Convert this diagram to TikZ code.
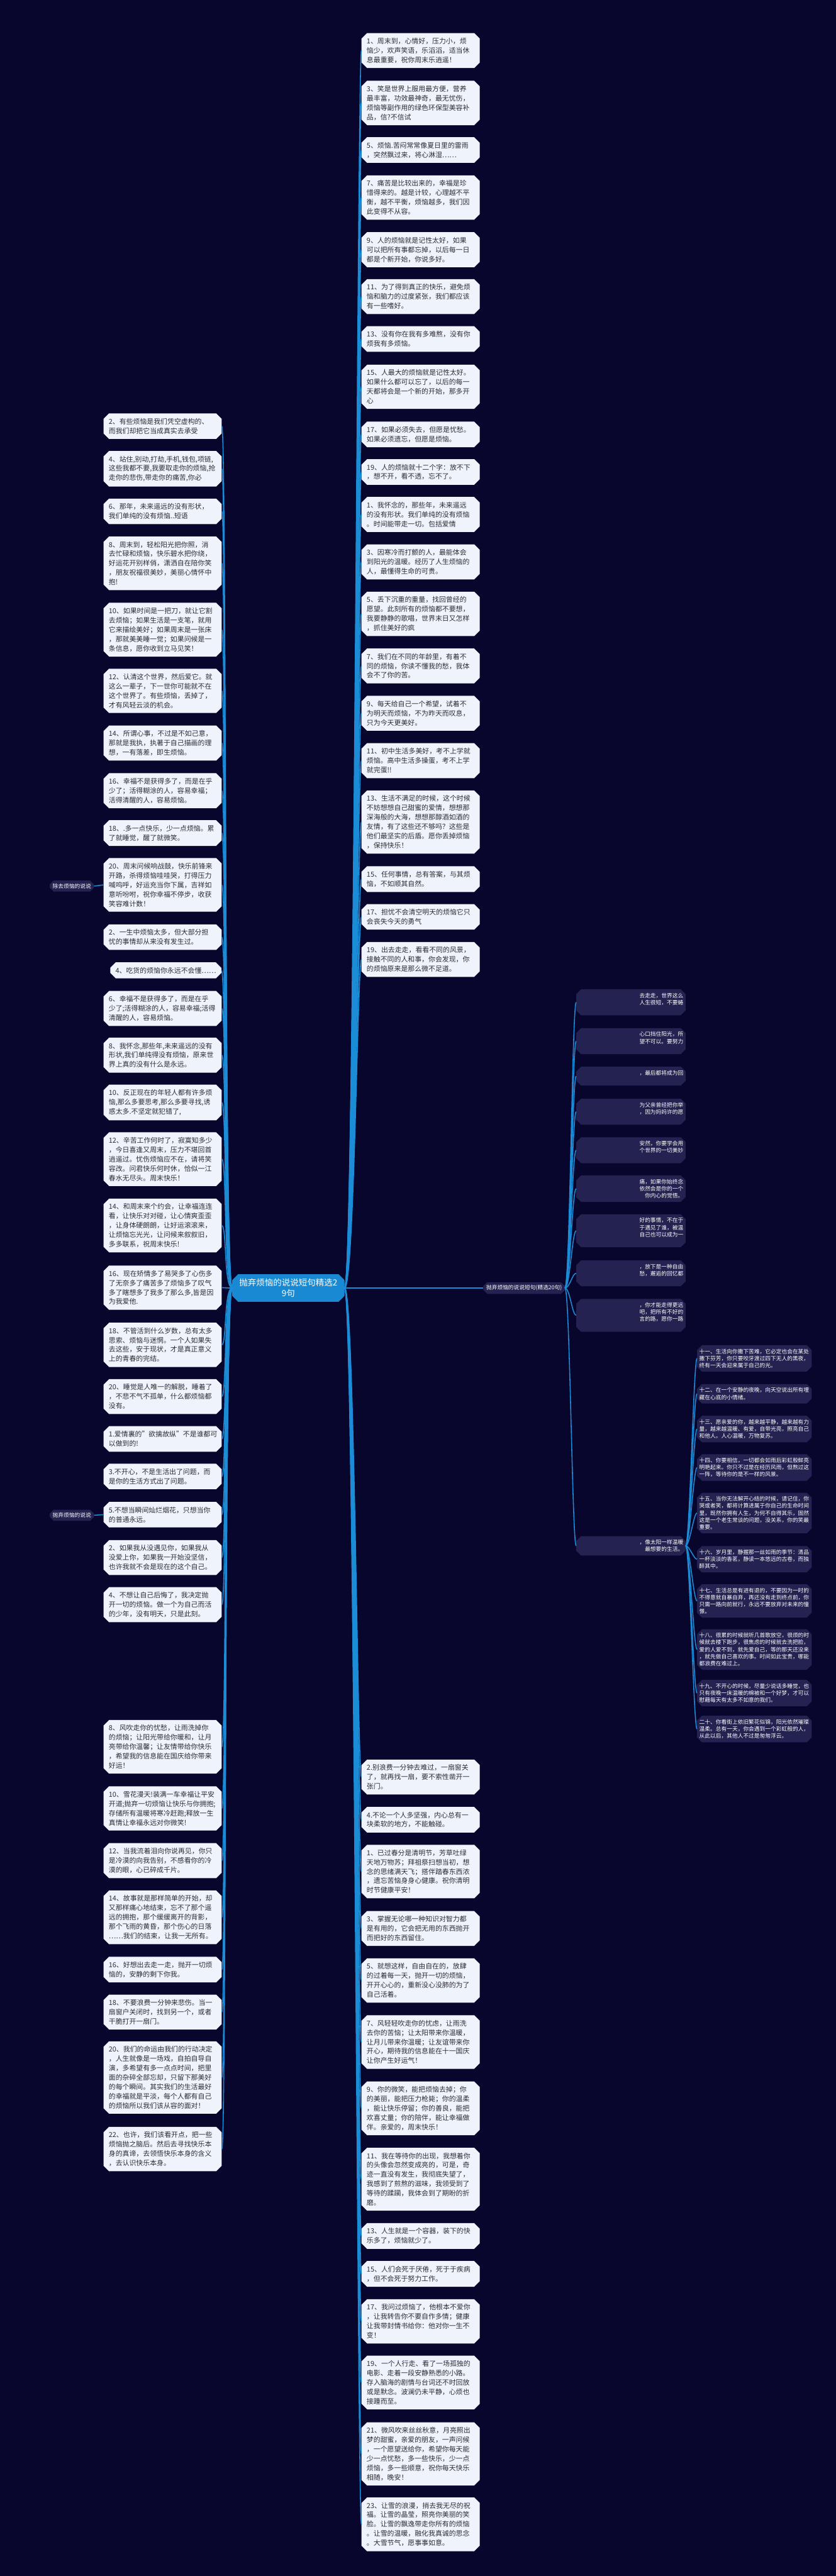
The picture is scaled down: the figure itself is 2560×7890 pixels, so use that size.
\documentclass[tikz,border=0pt]{standalone}
\usepackage{fontspec}
\setmainfont{Noto Sans CJK SC}
\usetikzlibrary{shapes.misc,calc}
\definecolor{bgcol}{RGB}{9,6,46}
\definecolor{lightfill}{RGB}{238,243,252}
\definecolor{lighttext}{RGB}{45,45,50}
\definecolor{darkfill}{RGB}{36,34,80}
\definecolor{linecol}{RGB}{27,140,214}
\definecolor{centerfill}{RGB}{25,137,211}
\newcommand{\mylfont}{\fontsize{21}{28.7}\selectfont}
\newcommand{\mydfont}{\fontsize{16.8}{21.6}\selectfont}
\newcommand{\mycfont}{\fontsize{26}{32}\selectfont}
\begin{document}
\begin{tikzpicture}[x=1pt,y=-1pt,
  lnode/.style={chamfered rectangle, chamfered rectangle xsep=8pt, chamfered rectangle ysep=9pt, fill=lightfill, text=lighttext, inner xsep=8pt, inner ysep=6pt, text width=330pt, align=left, font=\mylfont, anchor=north},
  dnode/.style={chamfered rectangle, chamfered rectangle xsep=7pt, chamfered rectangle ysep=8pt, fill=darkfill, text=white, inner xsep=0pt, inner ysep=3pt, text width=337pt, align=left, font=\mydfont, anchor=north},
  fnode/.style={dnode, text width=321pt, align=right},
  hub/.style={chamfered rectangle, chamfered rectangle xsep=6pt, chamfered rectangle ysep=6pt, fill=darkfill, text=white, font=\mydfont, inner sep=3pt},
  conn/.style={draw=linecol, line width=3pt},
]
\fill[bgcol] (0,0) rectangle (2560,7890);
\useasboundingbox (0,0) rectangle (2560,7890);

% center
\node[chamfered rectangle, chamfered rectangle xsep=8pt, chamfered rectangle ysep=10pt, fill=centerfill, text=white, font=\mycfont, text width=320pt, align=center, inner sep=4pt] (c) at (883,3945) {抛弃烦恼的说说短句精选2\\9句};

% left column
\node[lnode] (L1) at (498,1266) {2、有些烦恼是我们凭空虚构的、\\而我们却把它当成真实去承受};
\node[lnode] (L2) at (498,1381) {4、站住,别动,打劫,手机,钱包,项链,\\这些我都不要,我要取走你的烦恼,抢\\走你的悲伤,带走你的痛苦,你必};
\node[lnode] (L3) at (498,1527) {6、那年，未来遥远的没有形状，\\我们单纯的没有烦恼..短语};
\node[lnode] (L4) at (498,1643) {8、周末到，轻松阳光把你照，消\\去忙碌和烦恼，快乐碧水把你绕，\\好运花开别样俏，潇洒自在陪你笑\\，朋友祝福很美妙，美丽心情怀中\\抱!};
\node[lnode] (L5) at (498,1846) {10、如果时间是一把刀，就让它割\\去烦恼；如果生活是一支笔，就用\\它来描绘美好；如果周末是一张床\\，那就美美睡一觉；如果问候是一\\条信息，愿你收到立马见笑！};
\node[lnode] (L6) at (498,2048) {12、认清这个世界，然后爱它。就\\这么一辈子，下一世你可能就不在\\这个世界了。有些烦恼，丢掉了，\\才有风轻云淡的机会。};
\node[lnode] (L7) at (498,2222) {14、所谓心事，不过是不如己意，\\那就是我执，执著于自己描画的理\\想，一有落差，即生烦恼。};
\node[lnode] (L8) at (498,2368) {16、幸福不是获得多了，而是在乎\\少了；活得糊涂的人，容易幸福；\\活得清醒的人，容易烦恼。};
\node[lnode] (L9) at (498,2512) {18、.多一点快乐，少一点烦恼。累\\了就睡觉，醒了就微笑。};
\node[lnode] (L10) at (498,2628) {20、周末问候响战鼓，快乐前锋来\\开路，杀得烦恼哇哇哭，打得压力\\喊呜呼，好运充当你下属，吉祥如\\意听吩咐，祝你幸福不停步，收获\\笑容难计数！};
\node[lnode] (L11) at (498,2831) {2、一生中烦恼太多，但大部分担\\忧的事情却从来没有发生过。};
\node[lnode, text width=, anchor=east] (L12) at (678,2972) {4、吃货的烦恼你永远不会懂……};
\node[lnode] (L13) at (498,3035) {6、幸福不是获得多了，而是在乎\\少了;活得糊涂的人，容易幸福;活得\\清醒的人，容易烦恼。};
\node[lnode] (L14) at (498,3178) {8、我怀念,那些年,未来遥远的没有\\形状,我们单纯得没有烦恼，原来世\\界上真的没有什么是永远。};
\node[lnode] (L15) at (498,3322) {10、反正现在的年轻人都有许多烦\\恼,那么多要思考,那么多要寻找,诱\\惑太多.不坚定就犯错了,};
\node[lnode] (L16) at (498,3468) {12、辛苦工作何时了，寂寞知多少\\，今日喜逢又周末，压力不堪回首\\逍遥过。忧伤烦恼应不在，请将笑\\容改。问君快乐何时休，恰似一江\\春水无尽头。周末快乐！};
\node[lnode] (L17) at (498,3671) {14、和周末来个约会，让幸福连连\\看，让快乐对对碰，让心情爽歪歪\\，让身体硬朗朗，让好运滚滚来，\\让烦恼忘光光，让问候来叙叙旧，\\多多联系，祝周末快乐!};
\node[lnode] (L18) at (498,3876) {16、现在矫情多了易哭多了心伤多\\了无奈多了痛苦多了烦恼多了叹气\\多了瞎想多了我多了那么多,皆是因\\为我爱他.};
\node[lnode] (L19) at (498,4051) {18、不管活到什么岁数，总有太多\\思索、烦恼与迷惘。一个人如果失\\去这些，安于现状，才是真正意义\\上的青春的完结。};
\node[lnode] (L20) at (498,4224) {20、睡觉是人唯一的解脱，睡着了\\，不悲不气不孤单，什么都烦恼都\\没有。};
\node[lnode] (L21) at (498,4368) {1.爱情裏的"欲擒故纵"不是谁都可\\以做到的!};
\node[lnode] (L22) at (498,4483) {3.不开心，不是生活出了问题，而\\是你的生活方式出了问题。};
\node[lnode] (L23) at (498,4600) {5.不想当瞬间灿烂烟花，只想当你\\的普通永远。};
\node[lnode] (L24) at (498,4717) {2、如果我从没遇见你，如果我从\\没爱上你，如果我一开始没坚信，\\也许我就不会是现在的这个自己。};
\node[lnode] (L25) at (498,4861) {4、不想让自己后悔了，我决定抛\\开一切的烦恼。做一个为自己而活\\的少年，没有明天，只是此刻。};
\node[lnode] (L27) at (498,5268) {8、风吹走你的忧愁，让雨洗掉你\\的烦恼；让阳光带给你暖和，让月\\亮带给你温馨；让友情带给你快乐\\，希望我的信息能在国庆给你带来\\好运！};
\node[lnode] (L28) at (498,5471) {10、雪花漫天!装满一车幸福让平安\\开道;抛弃一切烦恼让快乐与你拥抱;\\存储所有温暖将寒冷赶跑;释放一生\\真情让幸福永远对你微笑!};
\node[lnode] (L29) at (498,5645) {12、当我流着泪向你说再见，你只\\是冷漠的向我告别，不感看你的冷\\漠的眼，心已碎成千片。};
\node[lnode] (L30) at (498,5790) {14、故事就是那样简单的开始，却\\又那样痛心地结束，忘不了那个遥\\远的拥抱，那个缓缓离开的背影，\\那个飞雨的黄昏，那个伤心的日落\\……我们的结束，让我一无所有。};
\node[lnode] (L31) at (498,5993) {16、好想出去走一走，抛开一切烦\\恼的，安静的剩下你我。};
\node[lnode] (L32) at (498,6109) {18、不要浪费一分钟来悲伤。当一\\扇窗户关闭时，找到另一个，或者\\干脆打开一扇门。};
\node[lnode] (L33) at (498,6252) {20、我们的命运由我们的行动决定\\，人生就像是一场戏，自拍自导自\\演，多希望有多一点点时间，把里\\面的杂碎全部忘却，只留下那美好\\的每个瞬间。其实我们的生活最好\\的幸福就是平淡，每个人都有自己\\的烦恼所以我们该从容的面对！};
\node[lnode] (L34) at (498,6514) {22、也许，我们该看开点，把一些\\烦恼抛之脑后。然后去寻找快乐本\\身的真谛，去领悟快乐本身的含义\\，去认识快乐本身。};

% left hubs
\node[hub] (h1) at (220,2714) {除去烦恼的说说};
\node[hub] (h2) at (220,4641) {抛弃烦恼的说说};

% right top column
\node[lnode] (A0) at (1288,101) {1、周末到，心情好，压力小，烦\\恼少，欢声笑语，乐滔滔，适当休\\息最重要，祝你周末乐逍遥！};
\node[lnode] (A1) at (1288,247) {3、笑是世界上服用最方便，营养\\最丰富，功效最神奇，最无忧伤，\\烦恼等副作用的绿色环保型美容补\\品，信?不信试};
\node[lnode] (A2) at (1288,420) {5、烦恼.苦闷常常像夏日里的雷雨\\，突然飘过来，将心淋湿……};
\node[lnode] (A3) at (1288,537) {7、痛苦是比较出来的，幸福是珍\\惜得来的。越是计较，心理越不平\\衡，越不平衡，烦恼越多，我们因\\此变得不从容。};
\node[lnode] (A4) at (1288,711) {9、人的烦恼就是记性太好，如果\\可以把所有事都忘掉，以后每一日\\都是个新开始，你说多好。};
\node[lnode] (A5) at (1288,855) {11、为了得到真正的快乐，避免烦\\恼和脑力的过度紧张，我们都应该\\有一些嗜好。};
\node[lnode] (A6) at (1288,999) {13、没有你在我有多难熬，没有你\\烦我有多烦恼。};
\node[lnode] (A7) at (1288,1117) {15、人最大的烦恼就是记性太好。\\如果什么都可以忘了，以后的每一\\天都将会是一个新的开始，那多开\\心};
\node[lnode] (A8) at (1288,1291) {17、如果必须失去，但愿是忧愁。\\如果必须遗忘，但愿是烦恼。};
\node[lnode] (A9) at (1288,1406) {19、人的烦恼就十二个字：放不下\\，想不开，看不透，忘不了。};
\node[lnode] (A10) at (1288,1522) {1、我怀念的，那些年，未来遥远\\的没有形状。我们单纯的没有烦恼\\。时间能带走一切。包括爱情};
\node[lnode] (A11) at (1288,1667) {3、因寒冷而打颤的人，最能体会\\到阳光的温暖。经历了人生烦恼的\\人，最懂得生命的可贵。};
\node[lnode] (A12) at (1288,1812) {5、丢下沉重的重量，找回曾经的\\愿望。此刻所有的烦恼都不要想，\\我要静静的歌唱，世界末日又怎样\\，抓住美好的疯};
\node[lnode] (A13) at (1288,1986) {7、我们在不同的年龄里，有着不\\同的烦恼，你读不懂我的愁，我体\\会不了你的苦。};
\node[lnode] (A14) at (1288,2131) {9、每天给自己一个希望，试着不\\为明天而烦恼，不为昨天而叹息，\\只为今天更美好。};
\node[lnode] (A15) at (1288,2276) {11、初中生活多美好，考不上学就\\烦恼。高中生活多操蛋，考不上学\\就完蛋!!};
\node[lnode] (A16) at (1288,2421) {13、生活不满足的时候，这个时候\\不妨想想自己甜蜜的爱情，想想那\\深海般的大海，想想那醇酒如酒的\\友情，有了这些还不够吗？这些是\\他们最坚实的后盾。愿你丢掉烦恼\\，保持快乐！};
\node[lnode] (A17) at (1288,2653) {15、任何事情，总有答案，与其烦\\恼，不如顺其自然。};
\node[lnode] (A18) at (1288,2769) {17、担忧不会清空明天的烦恼它只\\会丧失今天的勇气};
\node[lnode] (A19) at (1288,2885) {19、出去走走，看看不同的风景，\\接触不同的人和事，你会发现，你\\的烦恼原来是那么微不足道。};

% right middle branch
\node[hub] (hR) at (1605,3945) {抛弃烦恼的说说短句(精选20句)};
\node[fnode] (E1) at (1932,3030) {去走走，世界这么\\人生很短，不要蜷\\\mbox{}};
\node[fnode] (E2) at (1932,3149) {心口挡住阳光，所\\望不可以。要努力\\\mbox{}};
\node[fnode] (E3) at (1932,3267) {，最后都将成为回\\\mbox{}};
\node[fnode] (E4) at (1932,3365) {为父亲曾经把你举\\，因为妈妈许的愿\\\mbox{}};
\node[fnode] (E5) at (1932,3483) {安然，你要学会用\\个世界的一切美妙\\\mbox{}};
\node[fnode] (E6) at (1932,3600) {痛，如果你始终念\\依然会是你的一个\\你内心的觉悟。\hspace{25pt}};
\node[fnode] (E7) at (1932,3719) {好的事情，不在于\\于遇见了谁，被温\\自己也可以成为一\\\mbox{}};
\node[fnode] (E8) at (1932,3860) {，放下是一种自由\\愁，邂逅的回忆都\\\mbox{}};
\node[fnode] (E9) at (1932,3978) {，你才能走得更远\\吧，把所有不好的\\言的路，愿你一路\\\mbox{}};
\node[fnode] (E10) at (1932,4705) {，像太阳一样温暖\\最想要的生活。\hspace{25pt}};

% right bottom column
\node[lnode] (B1) at (1288,5389) {2.别浪费一分钟去难过，一扇窗关\\了，就再找一扇，要不索性凿开一\\张门。};
\node[lnode] (B2) at (1288,5534) {4.不论一个人多坚强，内心总有一\\块柔软的地方，不能触碰。};
\node[lnode] (B3) at (1288,5650) {1、已过春分是清明节，芳草吐绿\\天地万物苏；拜祖祭扫想当初，想\\念的思绪满天飞；搭伴踏春东西浓\\，遗忘苦恼身身心健康。祝你清明\\时节健康平安！};
\node[lnode] (B4) at (1288,5853) {3、掌握无论哪一种知识对智力都\\是有用的，它会把无用的东西抛开\\而把好的东西留住。};
\node[lnode] (B5) at (1288,5998) {5、就想这样，自由自在的，放肆\\的过着每一天，抛开一切的烦恼，\\开开心心的，重新没心没肺的为了\\自己活着。};
\node[lnode] (B6) at (1288,6172) {7、风轻轻吹走你的忧虑，让雨洗\\去你的苦恼；让太阳带来你温暖，\\让月儿带来你温暖；让友谊带来你\\开心，期待我的信息能在十一国庆\\让你产生好运气！};
\node[lnode] (B7) at (1288,6375) {9、你的微笑，能把烦恼去掉；你\\的美丽，能把压力枪毙；你的温柔\\，能让快乐停留；你的善良，能把\\欢喜丈量；你的陪伴，能让幸福做\\伴。亲爱的，周末快乐！};
\node[lnode] (B8) at (1288,6578) {11、我在等待你的出现，我想着你\\的头像会忽然变成亮的，可是，奇\\迹一直没有发生，我彻底失望了，\\我感到了煎熬的滋味，我领受到了\\等待的蹂躏，我体会到了期盼的折\\磨。};
\node[lnode] (B9) at (1288,6809) {13、人生就是一个容器，装下的快\\乐多了，烦恼就少了。};
\node[lnode] (B10) at (1288,6925) {15、人们会死于厌倦，死于于疾病\\，但不会死于努力工作。};
\node[lnode] (B11) at (1288,7042) {17、我问过烦恼了，他根本不爱你\\，让我转告你不要自作多情；健康\\让我带封情书给你：他对你一生不\\变！};
\node[lnode] (B12) at (1288,7215) {19、一个人行走、看了一场孤独的\\电影、走着一段安静熟悉的小路。\\存入脑海的剧情与台词还不时回放\\或是默念。波澜仍未平静，心烦也\\接踵而至。};
\node[lnode] (B13) at (1288,7419) {21、微风吹来丝丝秋意，月亮照出\\梦的甜蜜，亲爱的朋友，一声问候\\，一个愿望送给你，希望你每天能\\少一点忧愁，多一些快乐，少一点\\烦恼，多一些顺意，祝你每天快乐\\相随，晚安！};
\node[lnode] (B14) at (1288,7649) {23、让雪的浪漫，捎去我无尽的祝\\福。让雪的晶莹，照亮你美丽的笑\\脸。让雪的飘逸带走你所有的烦恼\\。让雪的温暖，融化我真诚的思念\\。大雪节气，愿事事如意。};

% dark nodes 11-20
\node[dnode] (D11) at (2310,4120) {十一、生活向你撒下苦难，它必定也会在某处\\撒下芬芳，你只要咬牙渡过四下无人的黑夜，\\终有一天会迎来属于自己的光。};
\node[dnode] (D12) at (2310,4239) {十二、在一个安静的夜晚，向天空说出所有埋\\藏在心底的小情绪。};
\node[dnode] (D13) at (2310,4336) {十三、愿亲爱的你，越来越平静，越来越有力\\量，越来越温暖、有爱，自带光亮，照亮自己\\和他人。人心温暖，万物复苏。};
\node[dnode] (D14) at (2310,4454) {十四、你要相信，一切都会如雨后彩虹般鲜亮\\明艳起来。你只不过是在经历风雨，但熬过这\\一阵，等待你的是不一样的风景。};
\node[dnode] (D15) at (2310,4572) {十五、当你无法解开心结的时候，请记住，你\\哭或者笑，都将计算进属于你自己的生命时间\\里，既然你拥有人生，为何不自得其乐，固然\\这是一个老生常谈的问题，没关系，你的笑最\\重要。};
\node[dnode] (D16) at (2310,4735) {十六、岁月里，静握那一丝如雨的季节：清品\\一杯淡淡的香茗，静读一本悠远的古卷，而独\\醉其中。};
\node[dnode] (D17) at (2310,4852) {十七、生活总是有进有退的，不要因为一时的\\不得意就自暴自弃，再还没有走到终点前，你\\只需一路向前就行，永远不要放弃对未来的憧\\憬。};
\node[dnode] (D18) at (2310,4990) {十八、很累的时候就听几首歌放空，很烦的时\\候就去楼下跑步，很焦虑的时候就去洗把脸，\\爱的人爱不到，就先爱自己，等的那天还没来\\，就先做自己喜欢的事。时间如此宝贵，哪能\\都浪费在难过上。};
\node[dnode] (D19) at (2310,5145) {十九、不开心的时候，尽量少说话多睡觉，也\\只有夜晚一床温暖的棉被和一个好梦，才可以\\慰藉每天有太多不如意的我们。};
\node[dnode] (D20) at (2310,5255) {二十、你看街上依旧繁花似锦，阳光依然璀璨\\温柔。总有一天，你会遇到一个彩虹般的人，\\从此以后，其他人不过是匆匆浮云。};

% connectors
\foreach \n in {L1,L2,L3,L4,L5,L6,L7,L8,L9,L10,L11,L12,L13,L14,L15,L16,L17,L18,L19,L20,L21,L22,L23,L24,L25,L27,L28,L29,L30,L31,L32,L33,L34}
  \draw[conn] (c.west) .. controls +(-25,0) and +(15,0) .. (\n.east);
\foreach \n in {A0,A1,A2,A3,A4,A5,A6,A7,A8,A9,A10,A11,A12,A13,A14,A15,A16,A17,A18,A19,B1,B2,B3,B4,B5,B6,B7,B8,B9,B10,B11,B12,B13,B14}
  \draw[conn] (c.east) .. controls +(30,0) and +(-12,0) .. (\n.west);
\draw[conn] (c.east) -- (hR.west);
\foreach \n in {E1,E2,E3,E4,E5,E6,E7,E8,E9,E10}
  \draw[conn] (hR.east) .. controls +(15,0) and +(-12,0) .. (\n.west);
\foreach \n in {D11,D12,D13,D14,D15,D16,D17,D18,D19,D20}
  \draw[conn] (E10.east) .. controls +(12,0) and +(-10,0) .. (\n.west);
\draw[conn] (h1.east) -- (L10.west);
\draw[conn] (h2.east) -- (L23.west);
\end{tikzpicture}
\end{document}
